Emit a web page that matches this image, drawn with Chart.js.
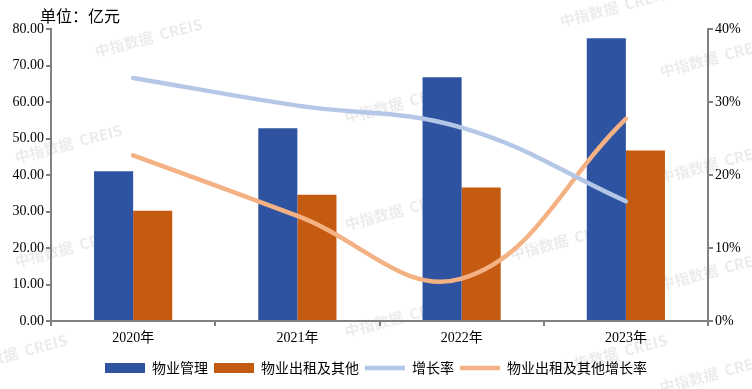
<!DOCTYPE html>
<html>
<head>
<meta charset="utf-8">
<script src="https://cdn.jsdelivr.net/npm/chart.js@4/dist/chart.umd.min.js"></script>
<style>
  html, body { margin: 0; padding: 0; background: #fff; }
  #wrap { width: 752px; height: 389px; position: relative; }
</style>
</head>
<body>
<div id="wrap"><canvas id="mainChart"></canvas></div>
<script>
var years = ["2020年", "2021年", "2022年", "2023年"];
var mgmt = [41.0, 52.8, 66.8, 77.5];
var rental = [30.2, 34.6, 36.6, 46.7];
var mgmtGrowth = [33.3, 29.5, 26.5, 16.4];
var rentalGrowth = [22.7, 14.4, 5.8, 27.7];

var serif = "'Liberation Serif', 'Noto Sans CJK SC', serif";
var cjk = "'Noto Sans CJK SC', sans-serif";
var axisGray = '#808080';

// faint watermark + unit label
var decor = {
    id: 'decor',
    beforeDraw: function (chart) {
        var c = chart.ctx;
        c.save();
        c.fillStyle = 'rgba(0,0,0,0.08)';
        c.font = "bold 15px " + cjk;
        var spots = [[95, 52], [345, 118], [560, 22], [660, 72], [15, 158], [345, 225], [510, 255],
                     [660, 178], [15, 262], [345, 332], [560, 368], [660, 285], [-40, 368], [660, 388]];
        spots.forEach(function (p) {
            c.save();
            c.translate(p[0], p[1]);
            c.rotate(-0.26);
            c.fillText("中指数据  CREIS", 0, 0);
            c.restore();
        });
        c.restore();
    },
    afterDraw: function (chart) {
        var c = chart.ctx;
        c.save();
        c.fillStyle = '#000';
        c.font = "16px " + cjk;
        c.textBaseline = 'middle';
        c.fillText("单位：亿元", 40, 16);
        c.restore();
    }
};

var ctx = document.getElementById("mainChart").getContext("2d");
var chart = new Chart(ctx, {
    type: 'bar',
    data: {
        labels: years,
        datasets: [{
            label: "物业管理",
            data: mgmt,
            backgroundColor: '#2E54A1',
            borderWidth: 0,
            yAxisID: 'y',
            order: 2,
            pointStyle: 'rect'
        }, {
            label: "物业出租及其他",
            data: rental,
            backgroundColor: '#C55A11',
            borderWidth: 0,
            yAxisID: 'y',
            order: 2,
            pointStyle: 'rect'
        }, {
            type: 'line',
            label: "增长率",
            data: mgmtGrowth,
            borderColor: '#B4C7E7',
            backgroundColor: '#B4C7E7',
            borderWidth: 4.5,
            borderCapStyle: 'round',
            pointRadius: 0,
            tension: 0.4,
            yAxisID: 'y1',
            order: 1,
            pointStyle: 'line'
        }, {
            type: 'line',
            label: "物业出租及其他增长率",
            data: rentalGrowth,
            borderColor: '#F4B183',
            backgroundColor: '#F4B183',
            borderWidth: 4.5,
            borderCapStyle: 'round',
            pointRadius: 0,
            tension: 0.4,
            yAxisID: 'y1',
            order: 1,
            pointStyle: 'line'
        }]
    },
    options: {
        responsive: true,
        maintainAspectRatio: false,
        animation: false,
        layout: {
            padding: { top: 29, left: 0, right: 0, bottom: 4 }
        },
        datasets: {
            bar: {
                categoryPercentage: 0.476,
                barPercentage: 1.0
            }
        },
        scales: {
            x: {
                grid: {
                    offset: true,
                    drawOnChartArea: false,
                    drawTicks: true,
                    tickLength: 5,
                    color: axisGray,
                    lineWidth: 2
                },
                border: { color: axisGray, width: 2 },
                ticks: {
                    color: '#000',
                    font: { family: serif, size: 14 },
                    padding: 4
                },
                afterFit: function (scale) { scale.height = 34; }
            },
            y: {
                position: 'left',
                min: 0,
                max: 80,
                grid: {
                    drawOnChartArea: false,
                    tickLength: 5,
                    color: axisGray,
                    lineWidth: 2
                },
                border: { color: axisGray, width: 2 },
                ticks: {
                    stepSize: 10,
                    color: '#000',
                    padding: 2,
                    font: { family: serif, size: 14 },
                    callback: function (v) { return v.toFixed(2); }
                },
                afterFit: function (scale) { scale.width = 51; }
            },
            y1: {
                position: 'right',
                min: 0,
                max: 40,
                grid: {
                    drawOnChartArea: false,
                    tickLength: 5,
                    color: axisGray,
                    lineWidth: 2
                },
                border: { color: axisGray, width: 2 },
                ticks: {
                    stepSize: 10,
                    color: '#000',
                    padding: 2,
                    font: { family: serif, size: 14 },
                    callback: function (v) { return v + '%'; }
                },
                afterFit: function (scale) { scale.width = 44; }
            }
        },
        plugins: {
            legend: {
                position: 'bottom',
                labels: {
                    usePointStyle: true,
                    pointStyleWidth: 40,
                    boxHeight: 10,
                    padding: 6,
                    color: '#000',
                    font: { family: cjk, size: 14 },
                    sort: function (a, b) { return a.datasetIndex - b.datasetIndex; }
                }
            },
            tooltip: { enabled: false }
        }
    },
    plugins: [decor]
});
</script>
</body>
</html>
